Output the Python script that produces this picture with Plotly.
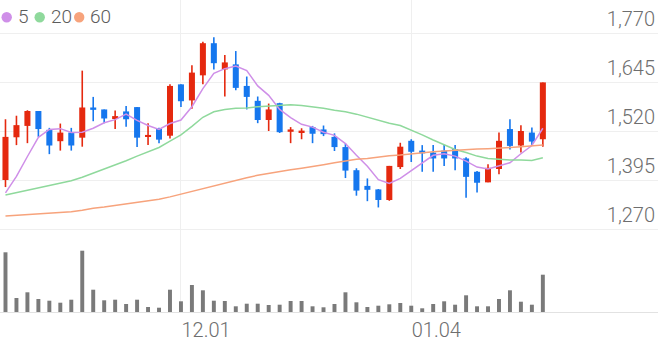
import plotly.graph_objects as go

# ---- data ----
tick_pos = [16, 37]
tick_labels = ["12.01", "01.04"]
price_ticks = [1270, 1395, 1520, 1645, 1770]

open_ = [1395, 1504, 1533, 1571, 1523, 1494, 1516, 1503, 1580, 1575,
         1553, 1570, 1581, 1505, 1526, 1508, 1639, 1598, 1662, 1744,
         1677, 1690, 1635, 1597, 1548, 1591, 1518, 1516, 1530, 1524,
         1505, 1479, 1420, 1380, 1371, 1344, 1428, 1495, 1470, 1465,
         1470, 1474, 1450, 1416, 1389, 1423, 1525, 1483, 1516, 1499]
high = [1550, 1559, 1573, 1571, 1528, 1539, 1528, 1674, 1607, 1575,
        1572, 1584, 1581, 1540, 1528, 1639, 1639, 1688, 1748, 1759,
        1714, 1724, 1659, 1608, 1590, 1592, 1530, 1527, 1533, 1534,
        1514, 1488, 1425, 1399, 1372, 1431, 1490, 1499, 1484, 1484,
        1484, 1484, 1453, 1418, 1435, 1516, 1550, 1535, 1529, 1644]
low = [1377, 1484, 1489, 1505, 1461, 1470, 1470, 1480, 1545, 1540,
       1525, 1531, 1479, 1484, 1489, 1501, 1581, 1577, 1639, 1677,
       1608, 1624, 1575, 1540, 1520, 1515, 1489, 1499, 1489, 1507,
       1469, 1400, 1355, 1341, 1325, 1342, 1423, 1441, 1416, 1416,
       1431, 1420, 1350, 1363, 1389, 1410, 1473, 1465, 1484, 1480]
close = [1505, 1535, 1571, 1525, 1483, 1516, 1483, 1580, 1574, 1552,
         1558, 1550, 1503, 1510, 1498, 1635, 1596, 1669, 1744, 1693,
         1695, 1630, 1607, 1548, 1575, 1517, 1524, 1521, 1513, 1512,
         1479, 1419, 1368, 1370, 1344, 1431, 1480, 1467, 1463, 1450,
         1450, 1450, 1403, 1388, 1426, 1495, 1482, 1520, 1493, 1644]
volume = [59700, 14000, 19700, 13000, 11300, 9300, 12300, 61300, 22300, 11700,
          12300, 8000, 12300, 5000, 4300, 22300, 10700, 27000, 21700, 11300,
          11000, 5700, 8300, 8300, 7000, 7300, 11000, 11000, 5700, 4700,
          8000, 19700, 9700, 5000, 6300, 7700, 9000, 6300, 3700, 8000,
          10700, 7300, 16700, 5700, 5700, 13000, 21700, 10300, 7300, 37300]
ma5 = [1362, 1404, 1455, 1504, 1524, 1526, 1516, 1517, 1527, 1541,
       1549, 1563, 1547, 1534, 1524, 1539, 1548, 1582, 1628, 1667,
       1679, 1686, 1674, 1635, 1611, 1575, 1554, 1537, 1530, 1517,
       1509, 1488, 1458, 1430, 1396, 1386, 1399, 1418, 1437, 1458,
       1462, 1456, 1443, 1428, 1423, 1432, 1439, 1462, 1483, 1527]
ma20 = [1357, 1363, 1370, 1375, 1381, 1387, 1393, 1402, 1412, 1422,
        1433, 1444, 1456, 1467, 1478, 1494, 1510, 1532, 1555, 1569,
        1575, 1578, 1579, 1582, 1584, 1586, 1587, 1585, 1582, 1578,
        1573, 1569, 1563, 1555, 1548, 1540, 1534, 1523, 1510, 1497,
        1484, 1473, 1465, 1456, 1450, 1448, 1446, 1446, 1445, 1452]
ma60 = [1303, 1305, 1307, 1309, 1310, 1312, 1314, 1318, 1323, 1326,
        1330, 1334, 1337, 1341, 1346, 1352, 1359, 1366, 1374, 1381,
        1388, 1395, 1401, 1407, 1412, 1417, 1421, 1425, 1429, 1434,
        1439, 1444, 1448, 1450, 1454, 1457, 1459, 1462, 1465, 1467,
        1469, 1471, 1473, 1474, 1475, 1476, 1478, 1480, 1482, 1484]
ma_names = ["5", "20", "60"]

# ---- styles ----
UP = "#e5290f"
DOWN = "#1677ee"
MA_COLORS = ["#cf8fe8", "#8fd99c", "#f7a37c"]
TXT = "#6e6e6e"
GRID = "#efefef"

x = list(range(len(close)))

fig = go.Figure()

# volume
fig.add_trace(go.Bar(x=x, y=volume, yaxis="y2", width=0.36,
                     marker=dict(color="#7a7a7a", line=dict(width=0)),
                     showlegend=False, hoverinfo="skip"))

# candles: wicks + bodies
for up, col in ((True, UP), (False, DOWN)):
    wx, wy, bx, bb, bh = [], [], [], [], []
    for i in x:
        if (close[i] >= open_[i]) == up:
            wx += [i, i, None]
            wy += [low[i], high[i], None]
            bx.append(i)
            bb.append(min(open_[i], close[i]))
            bh.append(abs(close[i] - open_[i]))
    fig.add_trace(go.Scatter(x=wx, y=wy, mode="lines",
                             line=dict(color=col, width=1.6),
                             showlegend=False, hoverinfo="skip"))
    fig.add_trace(go.Bar(x=bx, y=bh, base=bb, width=0.55,
                         marker=dict(color=col, line=dict(width=0)),
                         showlegend=False, hoverinfo="skip"))

# moving averages
for vals, col, nm in zip((ma5, ma20, ma60), MA_COLORS, ma_names):
    fig.add_trace(go.Scatter(x=x, y=vals, mode="lines", name=nm,
                             line=dict(color=col, width=1.5),
                             showlegend=False, hoverinfo="skip"))

# legend (dots + labels)
H = 312.0
W = 658.0
leg_dot_x = [6.7, 39.7, 79.2]
leg_txt_x = [15.5, 48.5, 87.5]
for cx, tx, col, nm in zip(leg_dot_x, leg_txt_x, MA_COLORS, ma_names):
    fig.add_shape(type="circle", xref="paper", yref="paper",
                  x0=(cx - 5.2) / W, x1=(cx + 5.2) / W,
                  y0=(H - 22.4) / H, y1=(H - 12.0) / H,
                  fillcolor=col, line=dict(width=0))
    fig.add_annotation(x=tx / W, y=(H - 16.5) / H, xref="paper", yref="paper",
                       xanchor="left", yanchor="middle", showarrow=False,
                       text=nm, font=dict(family="Roboto", size=19, color="#5c5c5c", weight=300))

fig.update_layout(
    width=658, height=342,
    margin=dict(l=0, r=0, t=0, b=30),
    paper_bgcolor="white", plot_bgcolor="white",
    barmode="overlay", showlegend=False,
    font=dict(family="Roboto"),
    xaxis=dict(range=[-0.5, 59.5], tickvals=tick_pos, ticktext=tick_labels,
               showgrid=True, gridcolor=GRID, gridwidth=1,
               showline=True, linecolor="#e2e2e2", linewidth=1,
               zeroline=False, ticks="", ticklabelposition="outside right",
               tickfont=dict(family="Roboto", size=20, color=TXT, weight=300)),
    yaxis=dict(range=[1058.3, 1854.2], tickvals=price_ticks,
               tickformat=",", side="right", ticklabelposition="inside top",
               showgrid=True, gridcolor=GRID, gridwidth=1,
               zeroline=False, showline=False, ticks="",
               tickfont=dict(family="Roboto", size=20, color=TXT, weight=300)),
    yaxis2=dict(overlaying="y", range=[0, 312000], showgrid=False,
                showticklabels=False, zeroline=False, showline=False, ticks=""),
)

fig.write_html("out.html")
